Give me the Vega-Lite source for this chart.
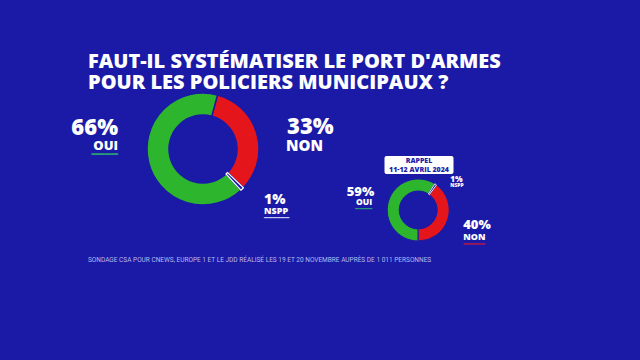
{
  "$schema": "https://vega.github.io/schema/vega-lite/v6.json",
  "background": "#1a1aa6",
  "padding": {"left": 60, "top": 52, "right": 149, "bottom": 98},
  "datasets": {
    "nov": [
      {"reponse": "NON", "pct": 0.33, "ordre": 1},
      {"reponse": "NSPP", "pct": 0.01, "ordre": 2},
      {"reponse": "OUI", "pct": 0.66, "ordre": 3}
    ],
    "avr": [
      {"reponse": "OUI", "pct": 0.59, "ordre": 1},
      {"reponse": "NSPP", "pct": 0.01, "ordre": 2},
      {"reponse": "NON", "pct": 0.40, "ordre": 3}
    ]
  },
  "config": {
    "view": {"stroke": null},
    "text": {"font": "Open Sans", "fontWeight": 800, "color": "white", "baseline": "alphabetic"}
  },
  "title": {
    "text": ["FAUT-IL SYSTÉMATISER LE PORT D'ARMES", "POUR LES POLICIERS MUNICIPAUX ?"],
    "anchor": "start",
    "dx": 28,
    "offset": -4,
    "font": "Open Sans",
    "fontWeight": 800,
    "fontSize": 20,
    "lineHeight": 21,
    "color": "white"
  },
  "vconcat": [
    {
      "title": {
        "text": "SONDAGE CSA POUR CNEWS, EUROPE 1 ET LE JDD RÉALISÉ LES 19 ET 20 NOVEMBRE AUPRÈS DE 1 011 PERSONNES",
        "orient": "bottom",
        "anchor": "start",
        "dx": 28,
        "offset": 10,
        "font": "Liberation Sans Narrow, Roboto",
        "fontWeight": "normal",
        "fontSize": 6.5,
        "color": "#b8b8ec"
      },
      "spacing": 0,
      "hconcat": [
        {
          "width": 286,
          "height": 120,
          "data": {"name": "nov"},
          "encoding": {
            "theta": {"field": "pct", "type": "quantitative", "stack": true, "scale": {"range": [0.262, 6.545]}},
            "order": {"field": "ordre", "type": "quantitative"}
          },
          "layer": [
            {
              "mark": {"type": "arc", "outerRadius": 56, "innerRadius": 34, "stroke": "#1a1aa6", "strokeWidth": 1.5},
              "encoding": {
                "color": {"field": "reponse", "type": "nominal", "legend": null,
                  "scale": {"domain": ["OUI", "NON", "NSPP"], "range": ["#2db52d", "#e5161b", "#1a1aa6"]}}
              }
            },
            {
              "mark": {"type": "arc", "outerRadius": 56, "innerRadius": 34, "fillOpacity": 0, "stroke": "white", "strokeWidth": 1.2},
              "encoding": {
                "strokeOpacity": {"condition": {"test": "datum.reponse === 'NSPP'", "value": 1}, "value": 0}
              }
            },
            {
              "transform": [{"filter": "datum.reponse === 'OUI'"}],
              "layer": [
                {"mark": {"type": "text", "align": "right", "dx": -85, "dy": -14, "fontSize": 22}, "encoding": {"text": {"field": "pct", "type": "quantitative", "format": ".0%"}}},
                {"mark": {"type": "text", "align": "right", "dx": -85, "dy": 1, "fontSize": 13}, "encoding": {"text": {"field": "reponse", "type": "nominal"}}},
                {"mark": {"type": "text", "align": "right", "dx": -85, "dy": 9, "fontSize": 11, "font": "DejaVu Sans", "fontWeight": "normal", "text": "━━━━", "color": "#2a9a74"}}
              ]
            },
            {
              "transform": [{"filter": "datum.reponse === 'NON'"}],
              "layer": [
                {"mark": {"type": "text", "align": "left", "dx": 84, "dy": -15, "fontSize": 22}, "encoding": {"text": {"field": "pct", "type": "quantitative", "format": ".0%"}}},
                {"mark": {"type": "text", "align": "left", "dx": 83, "dy": 2, "fontSize": 15}, "encoding": {"text": {"field": "reponse", "type": "nominal"}}}
              ]
            },
            {
              "transform": [{"filter": "datum.reponse === 'NSPP'"}],
              "layer": [
                {"mark": {"type": "text", "align": "left", "dx": 61, "dy": 55, "fontSize": 14}, "encoding": {"text": {"field": "pct", "type": "quantitative", "format": ".0%"}}},
                {"mark": {"type": "text", "align": "left", "dx": 61, "dy": 65, "fontSize": 9}, "encoding": {"text": {"field": "reponse", "type": "nominal"}}},
                {"mark": {"type": "text", "align": "left", "dx": 61, "dy": 71, "fontSize": 7, "font": "DejaVu Sans", "fontWeight": "normal", "text": "━━━━━━", "color": "#c8c8f4"}}
              ]
            }
          ]
        },
        {
          "spacing": 0,
          "center": true,
          "vconcat": [
            {
              "width": 10,
              "height": 67,
              "data": {"values": [{}]},
              "mark": {"type": "text", "text": ""}
            },
            {
              "width": 69,
              "height": 18,
              "view": {"fill": "white", "cornerRadius": 2, "stroke": null},
              "data": {"values": [{}]},
              "mark": {"type": "text", "text": ["RAPPEL", "11-12 AVRIL 2024"], "fontSize": 7, "lineHeight": 8.5, "baseline": "middle", "dy": -4, "align": "center", "color": "#1e22a8"}
            },
            {
              "width": 142,
              "height": 72,
              "data": {"name": "avr"},
              "encoding": {
                "theta": {"field": "pct", "type": "quantitative", "stack": true, "scale": {"range": [3.1416, 9.4248]}},
                "order": {"field": "ordre", "type": "quantitative"}
              },
              "layer": [
                {
                  "mark": {"type": "arc", "outerRadius": 31, "innerRadius": 19, "stroke": "#1a1aa6", "strokeWidth": 1},
                  "encoding": {
                    "color": {"field": "reponse", "type": "nominal", "legend": null,
                      "scale": {"domain": ["OUI", "NON", "NSPP"], "range": ["#2db52d", "#e5161b", "#1a1aa6"]}}
                  }
                },
                {
                  "mark": {"type": "arc", "outerRadius": 31, "innerRadius": 19, "fillOpacity": 0, "stroke": "white", "strokeWidth": 0.9},
                  "encoding": {
                    "strokeOpacity": {"condition": {"test": "datum.reponse === 'NSPP'", "value": 1}, "value": 0}
                  }
                },
                {
                  "transform": [{"filter": "datum.reponse === 'OUI'"}],
                  "layer": [
                    {"mark": {"type": "text", "align": "right", "dx": -44, "dy": -14, "fontSize": 13}, "encoding": {"text": {"field": "pct", "type": "quantitative", "format": ".0%"}}},
                    {"mark": {"type": "text", "align": "right", "dx": -46, "dy": -5, "fontSize": 8.5}, "encoding": {"text": {"field": "reponse", "type": "nominal"}}},
                    {"mark": {"type": "text", "align": "right", "dx": -46, "dy": 1, "fontSize": 7, "font": "DejaVu Sans", "fontWeight": "normal", "text": "━━━━", "color": "#2a9a74"}}
                  ]
                },
                {
                  "transform": [{"filter": "datum.reponse === 'NSPP'"}],
                  "layer": [
                    {"mark": {"type": "text", "align": "left", "dx": 32, "dy": -28, "fontSize": 8}, "encoding": {"text": {"field": "pct", "type": "quantitative", "format": ".0%"}}},
                    {"mark": {"type": "text", "align": "left", "dx": 32, "dy": -23, "fontSize": 5}, "encoding": {"text": {"field": "reponse", "type": "nominal"}}}
                  ]
                },
                {
                  "transform": [{"filter": "datum.reponse === 'NON'"}],
                  "layer": [
                    {"mark": {"type": "text", "align": "left", "dx": 45, "dy": 19, "fontSize": 13}, "encoding": {"text": {"field": "pct", "type": "quantitative", "format": ".0%"}}},
                    {"mark": {"type": "text", "align": "left", "dx": 45, "dy": 30, "fontSize": 9}, "encoding": {"text": {"field": "reponse", "type": "nominal"}}},
                    {"mark": {"type": "text", "align": "left", "dx": 45, "dy": 36, "fontSize": 6, "font": "DejaVu Sans", "fontWeight": "normal", "text": "━━━━━━", "color": "#e5161b"}}
                  ]
                }
              ]
            }
          ]
        }
      ]
    }
  ]
}
